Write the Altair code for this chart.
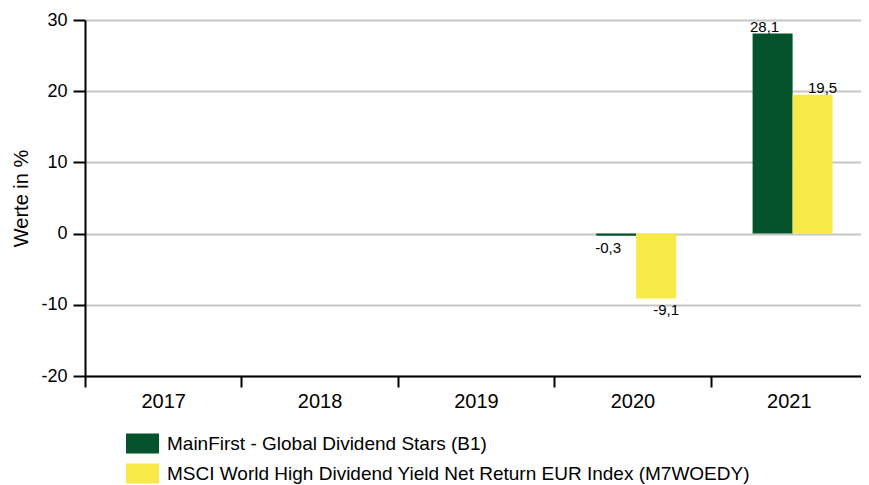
import altair as alt
import pandas as pd

years = ["2017", "2018", "2019", "2020", "2021"]
series = [
    "MainFirst - Global Dividend Stars (B1)",
    "MSCI World High Dividend Yield Net Return EUR Index (M7WOEDY)",
]
fund_values = [None, None, None, -0.3, 28.1]
index_values = [None, None, None, -9.1, 19.5]
colors = ["#05532c", "#f7e948"]

rows = []
for yr, f, i in zip(years, fund_values, index_values):
    for s, v in zip(series, [f, i]):
        if v is not None:
            rows.append({"year": yr, "series": s, "value": v,
                         "label": f"{v:.1f}".replace(".", ",")})
df = pd.DataFrame(rows)

FONT = "Liberation Sans"

x = alt.X("year:N", scale=alt.Scale(domain=years, range=[0, 782], paddingInner=0, paddingOuter=0),
          axis=alt.Axis(title=None, labelAngle=0, tickBand="extent", labelFontSize=20,
                        labelPadding=4, tickSize=11, tickWidth=2, domainWidth=2,
                        domainColor="black", tickColor="black", labelColor="black",
                        grid=False))
xo = alt.XOffset("series:N", scale=alt.Scale(domain=series, range=[42, 122],
                                             paddingInner=0, paddingOuter=0))
y = alt.Y("value:Q", scale=alt.Scale(domain=[-20, 30], nice=False),
          axis=alt.Axis(title="Werte in %", values=[-20, -10, 0, 10, 20, 30], titleFontSize=20,
                        titleFontWeight="normal", titleColor="black", titlePadding=9,
                        labelExpr="toString(datum.value)",
                        labelFontSize=18, labelColor="black", labelPadding=6,
                        tickSize=12, tickWidth=2, tickColor="black", domainWidth=2,
                        domainColor="black", grid=True, gridColor="#c6c6c6", gridWidth=2))

base = alt.Chart(df)

bars = base.mark_bar().encode(
    x=x, xOffset=xo, y=y,
    color=alt.Color("series:N", scale=alt.Scale(domain=series, range=colors),
                    legend=alt.Legend(title=None, orient="none", legendX=41, legendY=407,
                                      direction="vertical",
                                      symbolType="M-1,-0.606L1,-0.606L1,0.606L-1,0.606Z",
                                      symbolSize=1089, symbolStrokeWidth=0, labelFontSize=19,
                                      labelColor="black", labelOffset=8, rowPadding=3,
                                      labelLimit=800)),
)

layers = [bars]
for s, dx in zip(series, [-8, 10]):
    layers.append(base.transform_filter(alt.FieldEqualPredicate(field="series", equal=s))
                  .transform_filter("datum.value >= 0")
                  .mark_text(baseline="alphabetic", dy=-2, dx=dx, fontSize=15, font=FONT,
                             color="black")
                  .encode(x=x, xOffset=xo, y=y, text="label:N"))
    layers.append(base.transform_filter(alt.FieldEqualPredicate(field="series", equal=s))
                  .transform_filter("datum.value < 0")
                  .mark_text(baseline="alphabetic", dy=17, dx=dx, fontSize=15, font=FONT,
                             color="black")
                  .encode(x=x, xOffset=xo, y=y, text="label:N"))

chart = alt.layer(*layers).properties(
    width=776, height=356,
    autosize=alt.AutoSizeParams(type="none"),
    padding={"left": 77, "top": 12, "right": 0, "bottom": 111},
).configure(font=FONT).configure_view(stroke=None)

chart.save("out.html", embed_options={"renderer": "svg", "actions": False})
